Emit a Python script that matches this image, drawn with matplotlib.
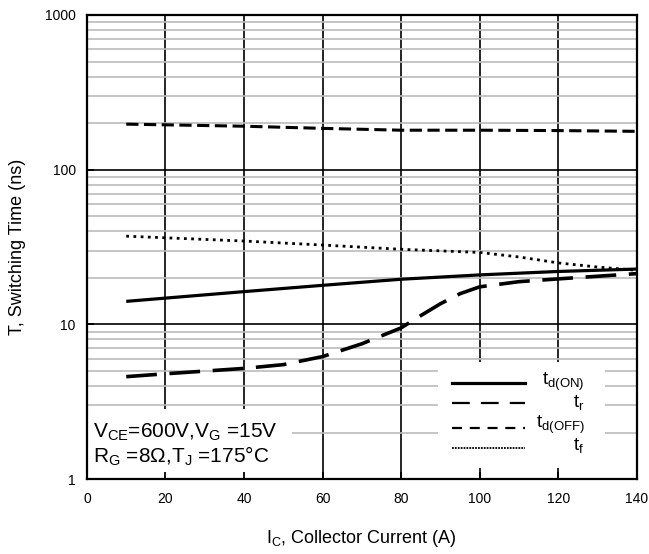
import numpy as np
import matplotlib
matplotlib.use("Agg")
import matplotlib.pyplot as plt
from matplotlib.patches import Rectangle
from matplotlib.lines import Line2D
from matplotlib.ticker import LogLocator, NullFormatter, FixedLocator

plt.rcParams['font.family'] = ['Liberation Sans', 'DejaVu Sans']
plt.rcParams['mathtext.default'] = 'regular'

# ── data ──
ic_on = [10, 20, 40, 60, 80, 100, 120, 140]
td_on = [14.1, 14.8, 16.3, 17.9, 19.6, 20.9, 22.0, 22.8]

ic_r = [10, 20, 40, 50, 60, 70, 80, 85, 90, 95, 100, 110, 120, 140]
t_r = [4.6, 4.8, 5.2, 5.5, 6.2, 7.5, 9.5, 11.4, 13.6, 15.8, 17.5, 18.9, 19.7, 21.3]

ic_off = [10, 40, 60, 80, 100, 120, 140]
td_off = [197, 191, 185, 180, 180, 179, 177]

ic_f = [10, 40, 60, 80, 100, 110, 120, 130, 140]
t_f = [37.2, 34.6, 32.6, 30.6, 29.2, 27.3, 25.0, 23.5, 22.4]

labels = [r't$_{d(ON)}$', r't$_{r}$', r't$_{d(OFF)}$', r't$_{f}$']
x_ticks = [0, 20, 40, 60, 80, 100, 120, 140]
y_ticks = [1, 10, 100, 1000]

POS = [0.134, 0.135, 0.847, 0.838]

fig = plt.figure(figsize=(6.49, 5.54), dpi=100)
ax = fig.add_axes(POS)

ax.set_yscale('log')
ax.set_xlim(0, 140)
ax.set_ylim(1, 1000)

# grid
ax.yaxis.set_minor_locator(LogLocator(base=10, subs=np.arange(2, 10)))
ax.yaxis.set_minor_formatter(NullFormatter())
ax.grid(which='minor', axis='y', color='#bbbbbb', lw=1.2)
ax.grid(which='major', axis='y', color='black', lw=1.2)
ax.xaxis.set_major_locator(FixedLocator(x_ticks))
ax.grid(which='major', axis='x', color='black', lw=1.2)
ax.set_yticks(y_ticks)
ax.set_yticklabels([str(v) for v in y_ticks])
ax.set_xticks(x_ticks)
ax.set_xticklabels([str(v) for v in x_ticks])
ax.tick_params(axis='both', which='both', direction='in', length=5, width=1.3, labelsize=10)
ax.tick_params(axis='y', which='minor', length=0)
ax.tick_params(axis='x', pad=9)
ax.tick_params(axis='y', pad=8)
for sp in ax.spines.values():
    sp.set_linewidth(1.6)
    sp.set_zorder(5)

# curves
ax.plot(ic_on, td_on, color='black', lw=2.3, ls='-', solid_capstyle='butt', zorder=3)
ax.plot(ic_r, t_r, color='black', lw=2.6, ls=(0, (8.5, 3.5)), zorder=3)
ax.plot(ic_off, td_off, color='black', lw=2.2, ls=(0, (4, 1.8)), zorder=3)
ax.plot(ic_f, t_f, color='black', lw=2.0, ls=(0, (1, 1.6)), zorder=3)

# condition box (covers the grid)
ax.add_patch(Rectangle((0.002, 0.0), 0.371, 0.151, transform=ax.transAxes,
                       facecolor='white', edgecolor='none', zorder=2))
ax.text(0.011, 0.100, r'V$_{CE}$=600V,V$_{G}$ =15V', transform=ax.transAxes,
        fontsize=15, va='center', ha='left', zorder=4)
ax.text(0.011, 0.050, r'R$_{G}$ =8$\Omega$,T$_{J}$ =175°C', transform=ax.transAxes,
        fontsize=15, va='center', ha='left', zorder=4)

# legend drawn by hand (labels right aligned)
ax.add_patch(Rectangle((0.638, 0.024), 0.305, 0.228, transform=ax.transAxes,
                       facecolor='white', edgecolor='none', zorder=2))
styles = [dict(lw=2.3, ls='-'),
          dict(lw=1.6, ls=(0, (8, 5))),
          dict(lw=1.6, ls=(0, (4.5, 3.5))),
          dict(lw=1.3, ls=(0, (1, 0.6)))]
rows = [0.207, 0.164, 0.110, 0.067]
for st, yy in zip(styles, rows):
    ax.add_line(Line2D([0.664, 0.796], [yy, yy], transform=ax.transAxes,
                       color='black', zorder=4, **st))
text_rows = [0.209, 0.166, 0.116, 0.072]
for lab, yy in zip(labels, text_rows):
    ax.text(0.905, yy, lab, transform=ax.transAxes, fontsize=13.5,
            ha='right', va='center', zorder=4)

ax.set_xlabel(r'I$_{C}$, Collector Current (A)', fontsize=13, labelpad=16)
ax.set_ylabel('T, Switching Time (ns)', fontsize=13, labelpad=14)

# inward x ticks drawn on top of the white boxes
ax2 = fig.add_axes(POS, frameon=False)
ax2.set_xlim(0, 140)
ax2.set_xticks(x_ticks)
ax2.set_yticks([])
ax2.tick_params(axis='x', direction='in', length=5, width=1.3, labelbottom=False)
ax2.patch.set_visible(False)

fig.savefig('out.png', dpi=100)
